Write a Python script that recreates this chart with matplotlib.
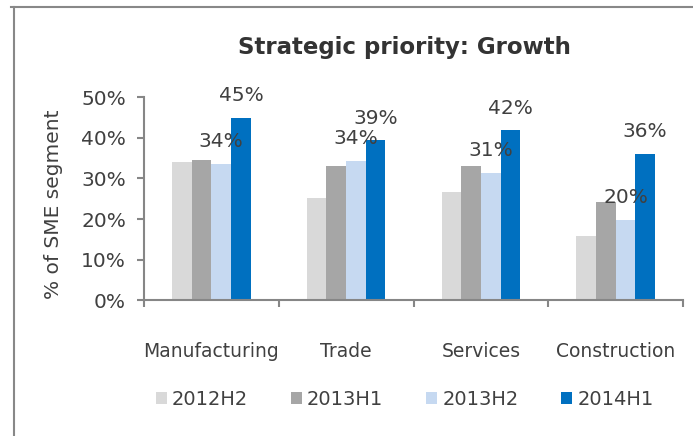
import matplotlib
matplotlib.use("Agg")
import matplotlib.pyplot as plt
from matplotlib.lines import Line2D
import numpy as np

# survey shares, % of SME segment
categories = ["Manufacturing", "Trade", "Services", "Construction"]
periods = ["2012H2", "2013H1", "2013H2", "2014H1"]
v2012h2 = [34.0, 25.3, 26.7, 15.9]
v2013h1 = [34.5, 33.1, 33.1, 24.2]
v2013h2 = [33.6, 34.4, 31.4, 19.8]
v2014h1 = [44.9, 39.4, 41.9, 36.0]
series = [v2012h2, v2013h1, v2013h2, v2014h1]
colors = ["#D9D9D9", "#A6A6A6", "#C6D9F1", "#0070C0"]
labelled = [2, 3]  # only the two latest periods get value labels

txt = "#404040"
plt.rcParams["font.family"] = ["DejaVu Sans"]

fig = plt.figure(figsize=(6.93, 4.36), dpi=100)
ax = fig.add_axes([0.2078, 0.3119, 0.7778, 0.4645])

x = np.arange(len(categories)) + 0.5
w = 0.146
for i, vals in enumerate(series):
    pos = x + (i - 1.5) * w
    ax.bar(pos, vals, width=w, color=colors[i], label=periods[i], zorder=2)
    if i in labelled:
        for p, v in zip(pos, vals):
            ax.annotate("%d%%" % round(v), (p, v), xytext=(0, 16),
                        textcoords="offset points", ha="center", va="center",
                        fontsize=14.5, color=txt)

ax.set_xlim(0, 4)
ax.set_ylim(0, 50)
ax.set_yticks([0, 10, 20, 30, 40, 50])
ax.set_yticklabels(["%d%%" % t for t in [0, 10, 20, 30, 40, 50]])
ax.set_xticks(x)
ax.set_xticklabels(categories)
ax.set_xticks(np.arange(5), minor=True)

for s in ["top", "right"]:
    ax.spines[s].set_visible(False)
for s in ["left", "bottom"]:
    ax.spines[s].set_color("#868686")
    ax.spines[s].set_linewidth(1.5)

ax.tick_params(axis="y", length=5, width=1.5, color="#868686", pad=8,
               labelsize=14.5, labelcolor=txt)
ax.tick_params(axis="x", which="major", length=0, pad=30,
               labelsize=13.5, labelcolor=txt)
ax.tick_params(axis="x", which="minor", length=5, width=1.5, color="#868686")

ax.set_ylabel("% of SME segment", fontsize=14.5, color=txt)
ax.yaxis.set_label_coords(-0.150, 0.474)

fig.text(0.584, 0.89, "Strategic priority: Growth", ha="center", va="center",
         fontsize=16.5, fontweight="bold", color="#333333")

fig.legend(loc="center", bbox_to_anchor=(0.584, 0.083), ncol=4, frameon=False,
           fontsize=14, labelcolor=txt, handlelength=0.57, handleheight=0.57,
           handletextpad=0.26, columnspacing=2.2)

# outer frame: only top and left edges fall inside the canvas
fig.add_artist(Line2D([0.0155, 1.0], [0.983, 0.983], transform=fig.transFigure,
                      color="#888888", lw=1.5))
fig.add_artist(Line2D([0.0195, 0.0195], [0.0, 0.983], transform=fig.transFigure,
                      color="#888888", lw=1.5))

fig.savefig("out.png", dpi=100)
